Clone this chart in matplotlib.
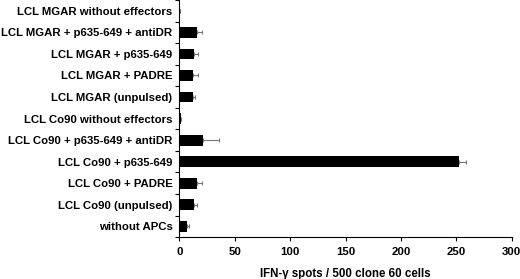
import numpy as np
import matplotlib
matplotlib.use("Agg")
import matplotlib.pyplot as plt

plt.rcParams['font.family'] = ['Liberation Sans', 'DejaVu Sans']
plt.rcParams['font.weight'] = 'bold'

labels = [
    "LCL MGAR without effectors",
    "LCL MGAR + p635-649 + antiDR",
    "LCL MGAR + p635-649",
    "LCL MGAR + PADRE",
    "LCL MGAR (unpulsed)",
    "LCL Co90 without effectors",
    "LCL Co90 + p635-649 + antiDR",
    "LCL Co90 + p635-649",
    "LCL Co90 + PADRE",
    "LCL Co90 (unpulsed)",
    "without APCs",
]
values = [0.3, 15.7, 13.5, 12.7, 12.5, 1.0, 21.7, 252, 15.6, 13.5, 6.6]
errors = [0.2, 4.5, 3.0, 3.8, 1.5, 0.5, 14.0, 7.0, 4.5, 2.0, 2.3]

fig = plt.figure(figsize=(5.2, 2.79), dpi=100)
ax = fig.add_axes([0.345, 0.150, 0.639, 0.85])

n = len(labels)
y = np.arange(n)[::-1]
ax.barh(y, values, height=0.5, color='black', zorder=2)
ax.errorbar(values, y, xerr=[np.zeros(n), errors], fmt='none',
            ecolor='#777777', elinewidth=0.8, capsize=1.5, capthick=0.8, zorder=1)

ax.set_ylim(-0.5, n - 0.5)
ax.set_xlim(0, 300)
ax.set_yticks(y)
ax.set_yticklabels(labels, fontsize=8.2, fontweight='bold')
ax.tick_params(axis='y', length=0, pad=5)
ax.set_yticks(np.arange(-0.5, n, 1), minor=True)
ax.tick_params(axis='y', which='minor', length=3, width=0.8, direction='out')
ax.set_xticks([0, 50, 100, 150, 200, 250, 300])
ax.tick_params(axis='x', length=3, width=0.8, labelsize=8.2, pad=4)
for t in ax.get_xticklabels():
    t.set_fontweight('bold')
ax.set_xlabel("IFN-\u03b3 spots / 500 clone 60 cells", fontsize=8.3, fontweight='bold', labelpad=8)

for s in ['top', 'right']:
    ax.spines[s].set_visible(False)
ax.spines['left'].set_linewidth(0.8)
ax.spines['bottom'].set_linewidth(0.8)

fig.savefig("out.png", dpi=100)
